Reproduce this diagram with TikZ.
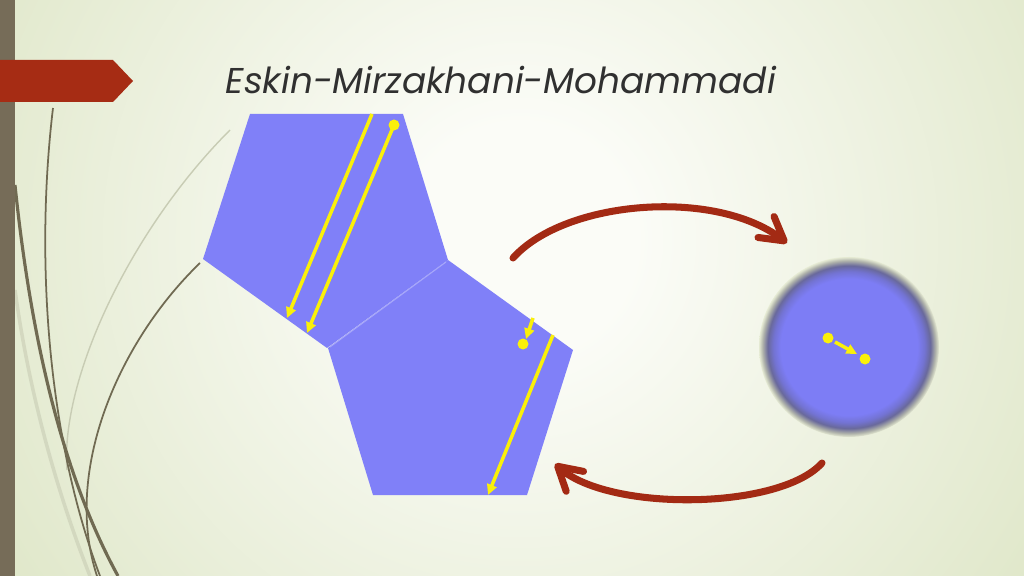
\documentclass[tikz,border=0pt]{standalone}
\usepackage{fontspec}
\newfontfamily\titlefont{Poppins}
\usetikzlibrary{arrows.meta}
\definecolor{bgin}{RGB}{251,252,247}
\definecolor{bgout}{RGB}{218,227,192}
\definecolor{barcol}{RGB}{118,108,88}
\definecolor{tabred}{RGB}{166,44,20}
\definecolor{arrred}{RGB}{163,42,20}
\definecolor{pentblue}{RGB}{128,128,248}
\definecolor{discblue}{RGB}{125,125,245}
\definecolor{discmid}{RGB}{115,115,210}
\definecolor{discedge}{RGB}{105,105,155}
\definecolor{discedgeb}{RGB}{175,178,170}
\definecolor{discbg}{RGB}{230,235,212}
\definecolor{yell}{RGB}{250,240,10}
\definecolor{grass}{RGB}{112,106,82}
\definecolor{grassfaint}{RGB}{200,204,180}
\definecolor{titlecol}{RGB}{48,48,48}
\pgfdeclareradialshading{bgshade}{\pgfpoint{0bp}{0bp}}{color(0bp)=(bgin); color(4bp)=(bgin); color(25bp)=(bgout); color(50bp)=(bgout)}
\pgfdeclareradialshading{discshade}{\pgfpoint{0bp}{0bp}}{color(0bp)=(discblue); color(19bp)=(discblue); color(21bp)=(discmid); color(22.6bp)=(discedge); color(24bp)=(discedgeb); color(25bp)=(discbg); color(50bp)=(discbg)}
\tikzset{
  yline/.style={draw=yell, line width=1pt, -{Triangle[length=3pt,width=2.8pt]}},
  ydot/.style={fill=yell},
  redarrow/.style={draw=arrred, line width=2pt, line cap=round, -{Straight Barb[length=6.5pt,width=7.5pt,round]}},
  grassline/.style={draw=grass},
  faintline/.style={draw=grassfaint, line width=0.4pt},
  pent/.style={fill=pentblue},
  seam/.style={draw=pentblue!70!white, line width=0.3pt}
}
\begin{document}
\begin{tikzpicture}[x=0.01cm,y=-0.01cm]
\useasboundingbox (0,0) rectangle (1024,576);
\begin{scope}
  \clip (0,0) rectangle (1024,576);
  \shade[shading=bgshade] (520,240) circle[radius=720];
\end{scope}
% left decorative curves
\draw[faintline] (230,130) .. controls (130,230) and (60,380) .. (67,470);
\draw[faintline, line width=1pt, opacity=0.6] (15,290) .. controls (30,400) and (60,500) .. (90,576);
\draw[grassline, line width=0.5pt] (53,108) .. controls (36,250) and (45,430) .. (100,576);
\draw[grassline, line width=0.9pt] (15,185) .. controls (30,330) and (60,470) .. (118,576);
\draw[grassline, line width=0.5pt] (200,263) .. controls (120,340) and (62,470) .. (97,576);
% left bar and tab
\fill[barcol] (0,0) rectangle (15,576);
\fill[tabred] (0,60) -- (113,60) -- (133,81) -- (113,102) -- (0,102) -- cycle;
% title
\node[anchor=base west, inner sep=0pt, text=titlecol] (title) at (225,94)
  {\resizebox{5.5cm}{!}{\titlefont\itshape Eskin-Mirzakhani-Mohammadi}};
% pentagons
\fill[pent] (250,114) -- (403,114) -- (448,260) -- (327,348) -- (203,259) -- cycle;
\fill[pent] (448,260) -- (573,350) -- (527,495) -- (373,495) -- (328,348) -- cycle;
\draw[seam] (446,262) -- (330,347);
% yellow trajectories
\coordinate (a1) at (372,114); \coordinate (a2) at (287,318);
\coordinate (b1) at (394,125); \coordinate (b2) at (307,333);
\coordinate (c1) at (533,318); \coordinate (c2) at (526,339);
\coordinate (cd) at (523,344);
\coordinate (d1) at (553,335); \coordinate (d2) at (488,495);
\draw[yline] (a1) -- (a2);
\draw[yline] (b1) -- (b2);
\fill[ydot] (b1) circle[radius=5.5];
\draw[yline] (c1) -- (c2);
\fill[ydot] (cd) circle[radius=5.5];
\draw[yline] (d1) -- (d2);
% disc
\shade[shading=discshade] (849,347) circle[radius=90];
\coordinate (p1) at (828,338); \coordinate (p2) at (865,359);
\draw[yline] (835,342) -- (857,354);
\fill[ydot] (p1) circle[radius=5.5];
\fill[ydot] (p2) circle[radius=5.5];
% red arrows
\coordinate (r1) at (513,258); \coordinate (r2) at (787,243);
\coordinate (s1) at (822,463); \coordinate (s2) at (555,464);
\draw[redarrow] (r1) .. controls (565,200) and (715,188) .. (r2);
\draw[redarrow] (s1) .. controls (780,510) and (610,512) .. (s2);
\end{tikzpicture}
\end{document}
